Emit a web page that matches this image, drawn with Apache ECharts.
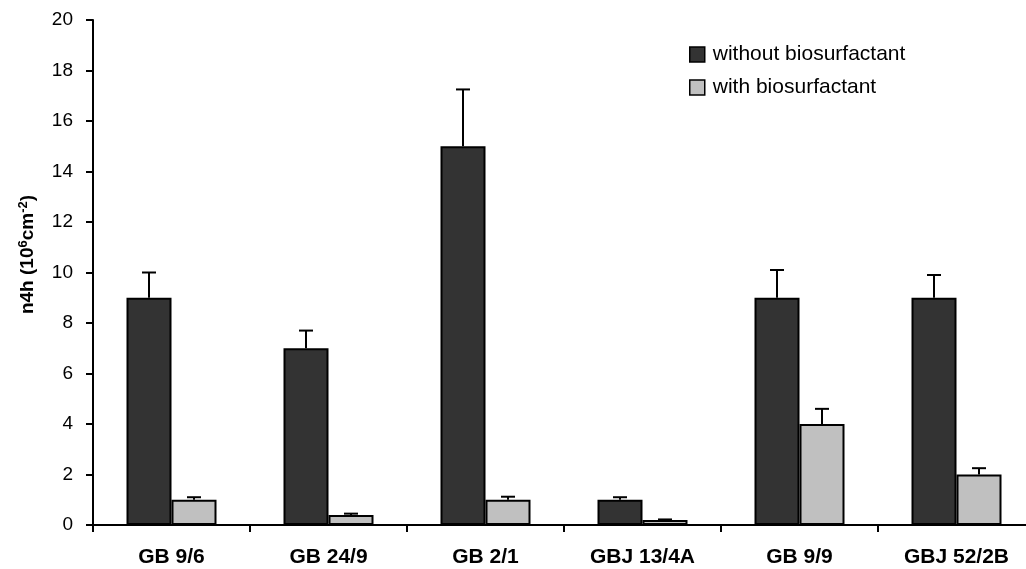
<!DOCTYPE html>
<html>
<head>
<meta charset="utf-8">
<script src="https://cdn.jsdelivr.net/npm/echarts@6/dist/echarts.min.js"></script>
<style>html,body{margin:0;padding:0;background:#fff;}#c{width:1026px;height:569px;}</style>
</head>
<body>
<div id="c"></div>
<script>
const categories = ['GB 9/6', 'GB 24/9', 'GB 2/1', 'GBJ 13/4A', 'GB 9/9', 'GBJ 52/2B'];
const withoutValues = [9, 7, 15, 1, 9, 9];
const withoutUpper = [10, 7.7, 17.25, 1.1, 10.1, 9.9];
const withValues = [1, 0.4, 1, 0.2, 4, 2];
const withUpper = [1.1, 0.45, 1.12, 0.22, 4.6, 2.25];
const yTicks = [0, 2, 4, 6, 8, 10, 12, 14, 16, 18, 20];

const BAR_W = 45;
const FONT = 'Liberation Sans, Arial, sans-serif';
const chart = echarts.init(document.getElementById('c'));

function errSeries(name, vals, ups, side) {
  return {
    type: 'custom',
    name: name + ' err',
    z: 5,
    silent: true,
    clip: false,
    data: vals.map((v, i) => [i, v, ups[i]]),
    renderItem: function (params, api) {
      const i = api.value(0);
      const p0 = api.coord([i, api.value(1)]);
      const p1 = api.coord([i, api.value(2)]);
      const x = p0[0] + side * BAR_W / 2;
      const cap = 7;
      const st = { stroke: '#000', lineWidth: 2 };
      return {
        type: 'group',
        children: [
          { type: 'line', shape: { x1: x, y1: p0[1], x2: x, y2: p1[1] }, style: st },
          { type: 'line', shape: { x1: x - cap, y1: p1[1], x2: x + cap, y2: p1[1] }, style: st }
        ]
      };
    }
  };
}

chart.setOption({
  animation: false,
  backgroundColor: '#ffffff',
  textStyle: { fontFamily: FONT },
  grid: { left: 93, top: 20, width: 942, height: 505, containLabel: false, outerBoundsMode: 'none' },
  legend: {
    left: 684, top: 39, orient: 'vertical', itemGap: 12,
    itemWidth: 15, itemHeight: 15,
    textStyle: { fontSize: 21, color: '#000', padding: [0, 0, 0, 3], fontFamily: FONT },
    data: [
      { name: 'without biosurfactant', icon: 'rect', itemStyle: { color: '#333333', borderColor: '#000', borderWidth: 1.5 } },
      { name: 'with biosurfactant', icon: 'rect', itemStyle: { color: '#c0c0c0', borderColor: '#000', borderWidth: 1.5 } }
    ]
  },
  xAxis: {
    type: 'category',
    data: categories,
    axisLine: { lineStyle: { color: '#000', width: 2 } },
    axisTick: { show: true, length: 7, lineStyle: { color: '#000', width: 2 } },
    axisLabel: { color: '#000', fontSize: 21, fontWeight: 'bold', margin: 22, fontFamily: FONT }
  },
  yAxis: {
    type: 'value',
    min: yTicks[0], max: yTicks[yTicks.length - 1], interval: 2,
    name: '{b|n4h (10}{s|6}{b|cm}{s|-2}{b|)}',
    nameLocation: 'middle', nameGap: 54, nameRotate: 90,
    nameTextStyle: {
      rich: {
        b: { fontSize: 19, fontWeight: 'bold', color: '#000', fontFamily: FONT },
        s: { fontSize: 13, fontWeight: 'bold', color: '#000', verticalAlign: 'top', padding: [0, 0, 9, 0], fontFamily: FONT }
      },
      padding: [0, 0, 0, 36]
    },
    splitLine: { show: false },
    axisLine: { show: true, lineStyle: { color: '#000', width: 2 } },
    axisTick: { show: true, length: 7, lineStyle: { color: '#000', width: 2 } },
    axisLabel: { color: '#000', fontSize: 19, margin: 20, fontFamily: FONT }
  },
  series: [
    {
      name: 'without biosurfactant', type: 'bar', data: withoutValues,
      barWidth: BAR_W, barGap: '0%',
      itemStyle: { color: '#333333', borderColor: '#000', borderWidth: 2 }
    },
    {
      name: 'with biosurfactant', type: 'bar', data: withValues,
      barWidth: BAR_W, barGap: '0%',
      itemStyle: { color: '#c0c0c0', borderColor: '#000', borderWidth: 2 }
    },
    errSeries('without', withoutValues, withoutUpper, -1),
    errSeries('with', withValues, withUpper, 1)
  ]
});
</script>
</body>
</html>
